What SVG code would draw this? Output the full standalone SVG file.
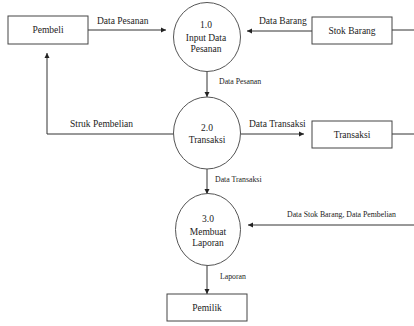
<svg xmlns="http://www.w3.org/2000/svg" width="414" height="326" viewBox="0 0 414 326" font-family="'Liberation Serif', 'DejaVu Serif', serif">
<style>
.box{fill:#fff;stroke:#444;stroke-width:1}
.proc{fill:#fff;stroke:#555;stroke-width:1}
.ln{fill:none;stroke:#333;stroke-width:1}
text{font-family:'Liberation Serif','DejaVu Serif',serif;fill:#222;text-anchor:middle}
.t{font-size:9.5px}
.s{font-size:7.8px;text-anchor:start}
.m{font-size:9.5px;text-anchor:start}
</style>
<defs>
<marker id="ah" markerWidth="6" markerHeight="6" refX="5" refY="3" orient="auto" markerUnits="userSpaceOnUse">
<path d="M0,0.5 L5,3 L0,5.5 Z" fill="#222"/>
</marker>
</defs>
<rect width="414" height="326" fill="#fff"/>
<g id="connectors">
<line class="ln" x1="88" y1="30" x2="166" y2="30" marker-end="url(#ah)"/>
<line class="ln" x1="312" y1="31" x2="247" y2="31" marker-end="url(#ah)"/>
<line class="ln" x1="392" y1="30" x2="414" y2="30"/>
<line class="ln" x1="207" y1="71" x2="207" y2="97" marker-end="url(#ah)"/>
<polyline class="ln" points="174,134 47,134 47,53" marker-end="url(#ah)"/>
<line class="ln" x1="241" y1="134" x2="304" y2="134" marker-end="url(#ah)"/>
<line class="ln" x1="392" y1="134" x2="414" y2="134"/>
<line class="ln" x1="207" y1="169" x2="207" y2="194" marker-end="url(#ah)"/>
<line class="ln" x1="414" y1="225" x2="248" y2="225" marker-end="url(#ah)"/>
<line class="ln" x1="207" y1="265" x2="207" y2="294" marker-end="url(#ah)"/>
<text class="m" x="97" y="24">Data Pesanan</text>
<text class="m" x="259" y="24">Data Barang</text>
<text class="s" x="219" y="84">Data Pesanan</text>
<text class="m" x="70" y="127">Struk Pembelian</text>
<text class="m" x="249" y="127">Data Transaksi</text>
<text class="s" x="215" y="182">Data Transaksi</text>
<text class="s" x="287" y="217">Data Stok Barang, Data Pembelian</text>
<text class="s" x="220" y="279">Laporan</text>
</g>
<g id="pembeli">
<rect class="box" x="8" y="16" width="80" height="28"/>
<text class="t" x="48" y="33">Pembeli</text>
</g>
<g id="stok-barang">
<rect class="box" x="312" y="17" width="80" height="27"/>
<text class="t" x="352" y="34">Stok Barang</text>
</g>
<g id="transaksi">
<rect class="box" x="312" y="121" width="80" height="27"/>
<text class="t" x="352" y="138">Transaksi</text>
</g>
<g id="pemilik">
<rect class="box" x="167" y="294" width="80" height="27"/>
<text class="t" x="207" y="311">Pemilik</text>
</g>
<g id="p1">
<ellipse class="proc" cx="207" cy="37" rx="33.5" ry="34.5"/>
<text class="t" x="206" y="28">1.0</text>
<text class="t" x="206" y="41">Input Data</text>
<text class="t" x="206" y="52">Pesanan</text>
</g>
<g id="p2">
<ellipse class="proc" cx="207" cy="133" rx="33.5" ry="36"/>
<text class="t" x="207" y="131">2.0</text>
<text class="t" x="207" y="143">Transaksi</text>
</g>
<g id="p3">
<ellipse class="proc" cx="208" cy="229.5" rx="32.5" ry="36"/>
<text class="t" x="208" y="222">3.0</text>
<text class="t" x="208" y="235">Membuat</text>
<text class="t" x="208" y="246">Laporan</text>
</g>
</svg>
